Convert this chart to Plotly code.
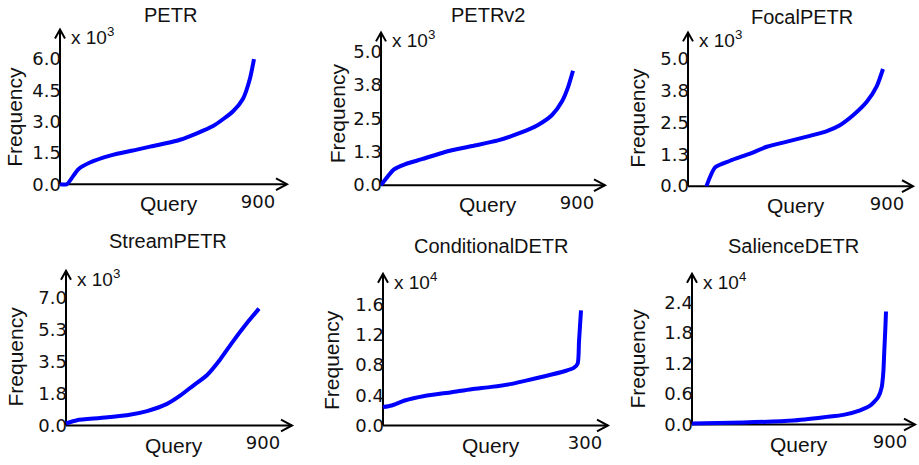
import plotly.graph_objects as go

# ---------------- data ----------------
titles = ["PETR", "PETRv2", "FocalPETR", "StreamPETR", "ConditionalDETR", "SalienceDETR"]
exponents = [3, 3, 3, 3, 4, 4]
query_max = [900, 900, 900, 900, 300, 900]

petr_q = [0, 32, 84, 139, 232, 357, 418, 557, 710, 803, 849, 881, 900]
petr_f = [0, 0, 0.71, 1.04, 1.37, 1.66, 1.80, 2.13, 2.79, 3.50, 4.10, 5.06, 6.00]

petrv2_q = [0, 61, 112, 192, 300, 427, 548, 642, 736, 802, 848, 877, 900]
petrv2_f = [0, 0.59, 0.78, 0.97, 1.24, 1.46, 1.67, 1.92, 2.25, 2.62, 3.12, 3.66, 4.27]

focal_q = [85, 125, 194, 286, 364, 471, 563, 641, 701, 762, 826, 872, 900]
focal_f = [0, 0.74, 1.00, 1.28, 1.55, 1.78, 1.98, 2.17, 2.40, 2.79, 3.33, 3.95, 4.61]

stream_q = [0, 51, 159, 284, 378, 471, 532, 592, 657, 718, 779, 844, 900]
stream_f = [0.11, 0.29, 0.41, 0.56, 0.79, 1.18, 1.63, 2.17, 2.75, 3.60, 4.60, 5.60, 6.39]

cond_q = [0, 13, 33, 63, 104, 134, 164, 195, 215, 245, 276, 289, 295, 297, 300]
cond_f = [0.243, 0.264, 0.33, 0.39, 0.44, 0.48, 0.51, 0.55, 0.59, 0.65, 0.72, 0.76, 0.82, 1.11, 1.52]

sal_q = [0, 239, 471, 625, 702, 780, 826, 864, 880, 888, 892, 897, 900]
sal_f = [0.02, 0.04, 0.08, 0.15, 0.19, 0.28, 0.37, 0.54, 0.73, 1.05, 1.44, 1.89, 2.22]

series_q = [petr_q, petrv2_q, focal_q, stream_q, cond_q, sal_q]
series_f = [petr_f, petrv2_f, focal_f, stream_f, cond_f, sal_f]

ytick_vals = [
    [0, 1.5, 3.0, 4.5, 6.0],
    [0, 1.25, 2.5, 3.75, 5.0],
    [0, 1.25, 2.5, 3.75, 5.0],
    [0, 1.75, 3.5, 5.25, 7.0],
    [0, 0.4, 0.8, 1.2, 1.6],
    [0, 0.6, 1.2, 1.8, 2.4],
]
ytick_text = [
    ["0.0", "1.5", "3.0", "4.5", "6.0"],
    ["0.0", "1.3", "2.5", "3.8", "5.0"],
    ["0.0", "1.3", "2.5", "3.8", "5.0"],
    ["0.0", "1.8", "3.5", "5.3", "7.0"],
    ["0.0", "0.4", "0.8", "1.2", "1.6"],
    ["0.0", "0.6", "1.2", "1.8", "2.4"],
]

# ---------------- layout geometry (pixels) ----------------
W, H = 919, 465
AX_X = [60, 381, 688, 66, 383, 692]        # y-axis line x
BASE_Y = [187, 188, 189, 432, 432, 431]    # x-axis line y
TOP_Y = [30, 33, 33, 275, 278, 278]        # y arrow tip
ARROW_X = [287, 605, 913, 292, 608, 915]   # x arrow tip
END_PX = [254, 573, 883, 259, 581, 886]    # pixel of query_max
YTICK_PX = [60, 52, 60, 302, 309, 307]     # pixel of top y tick
TITLE_XY = [(170, 15), (488, 15), (802, 17), (168, 245), (492, 250), (793, 250)]
FREQ_DX = [45, 44, 50, 50, 51, 54]
PAD = 3

FONT = "DejaVu Sans"
LBL = "Liberation Sans"


def fx(px):
    return px / W


def fy(py):
    return 1 - py / H


fig = go.Figure()
layout = dict(
    width=W, height=H, margin=dict(l=0, r=0, t=0, b=0),
    paper_bgcolor="white", plot_bgcolor="rgba(0,0,0,0)",
    showlegend=False,
)
shapes, annotations = [], []

for i in range(6):
    n = i + 1
    sfx = str(n) if n > 1 else ""
    xs = query_max[i] / (END_PX[i] - AX_X[i])
    ys = ytick_vals[i][-1] / (BASE_Y[i] - YTICK_PX[i])
    layout["xaxis" + sfx] = dict(
        domain=[fx(AX_X[i] - PAD), fx(ARROW_X[i])],
        range=[-PAD * xs, (ARROW_X[i] - AX_X[i]) * xs],
        showgrid=False, zeroline=False, showline=False, ticks="",
        tickvals=[query_max[i]], ticktext=[str(query_max[i])],
        tickfont=dict(family=FONT, size=18, color="#111"),
        ticklabelstandoff=2, ticklabelshift=4,
        anchor="y" + sfx, fixedrange=True,
    )
    layout["yaxis" + sfx] = dict(
        domain=[fy(BASE_Y[i] + PAD), fy(TOP_Y[i])],
        range=[-PAD * ys, (BASE_Y[i] - TOP_Y[i]) * ys],
        showgrid=False, zeroline=False, showline=False, ticks="",
        tickvals=ytick_vals[i], ticktext=ytick_text[i],
        tickfont=dict(family=FONT, size=18, color="#111"),
        ticklabelstandoff=-5,
        anchor="x" + sfx, fixedrange=True,
    )
    fig.add_trace(go.Scatter(
        x=series_q[i], y=series_f[i], mode="lines",
        line=dict(color="#0000ff", width=4, shape="spline", smoothing=0.6),
        xaxis="x" + sfx, yaxis="y" + sfx,
        hoverinfo="skip",
    ))
    # axis lines and arrow heads
    ln = dict(color="black", width=2)
    ax, by, ty, ex = AX_X[i], BASE_Y[i], TOP_Y[i], ARROW_X[i]
    shapes.append(dict(type="line", xref="paper", yref="paper", layer="below",
                       x0=fx(ax), y0=fy(by), x1=fx(ex), y1=fy(by), line=ln))
    shapes.append(dict(type="line", xref="paper", yref="paper", layer="below",
                       x0=fx(ax), y0=fy(by), x1=fx(ax), y1=fy(ty), line=ln))
    shapes.append(dict(type="path", xref="paper", yref="paper", layer="below", line=ln,
                       path=f"M {fx(ex-11)} {fy(by-6)} L {fx(ex)} {fy(by)} L {fx(ex-11)} {fy(by+6)}"))
    shapes.append(dict(type="path", xref="paper", yref="paper", layer="below", line=ln,
                       path=f"M {fx(ax-5)} {fy(ty+9)} L {fx(ax)} {fy(ty)} L {fx(ax+5)} {fy(ty+9)}"))
    # title
    tx, tyy = TITLE_XY[i]
    annotations.append(dict(text=titles[i], x=fx(tx), y=fy(tyy), xref="paper", yref="paper",
                            showarrow=False, xanchor="center", yanchor="middle",
                            font=dict(family=LBL, size=20, color="#111")))
    # exponent
    annotations.append(dict(text=f"x 10<sup>{exponents[i]}</sup>", x=fx(ax + 9), y=fy(ty + 7),
                            xref="paper", yref="paper", showarrow=False,
                            xanchor="left", yanchor="middle",
                            font=dict(family=LBL, size=19, color="#111")))
    # Query label
    annotations.append(dict(text="Query", x=fx((ax + ex) / 2 - 5), y=fy(by + 20),
                            xref="paper", yref="paper", showarrow=False,
                            xanchor="center", yanchor="middle",
                            font=dict(family=LBL, size=21, color="#111")))
    # Frequency label
    annotations.append(dict(text="Frequency", x=fx(ax - FREQ_DX[i]),
                            y=fy((by + YTICK_PX[i]) / 2 - 5),
                            xref="paper", yref="paper", showarrow=False, textangle=-90,
                            xanchor="center", yanchor="middle",
                            font=dict(family=LBL, size=21, color="#111")))

layout["shapes"] = shapes
layout["annotations"] = annotations
fig.update_layout(**layout)
fig.write_html("out.html", config={"displayModeBar": False, "staticPlot": True},
               post_script="document.body.style.margin='0';")
